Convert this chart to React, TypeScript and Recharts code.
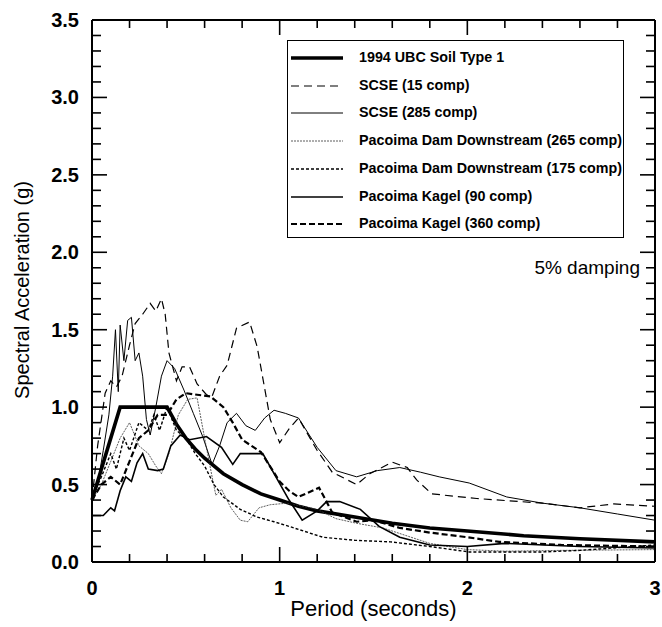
import { LineChart, Line, XAxis, YAxis, ReferenceLine } from 'recharts'

// spectral acceleration (g) vs period (s)
const ubcSoil1: [number, number][] = [
  [0, 0.4], [0.15, 1.0], [0.4, 1.0], [0.45, 0.89], [0.5, 0.8], [0.55, 0.73], [0.6, 0.67], [0.7, 0.57],
  [0.8, 0.5], [0.9, 0.44], [1.0, 0.4], [1.1, 0.36], [1.2, 0.33], [1.4, 0.29], [1.6, 0.25], [1.8, 0.22],
  [2.0, 0.2], [2.3, 0.17], [2.6, 0.15], [3.0, 0.13],
]

const scse15: [number, number][] = [
  [0, 0.4], [0.03, 0.75], [0.07, 1.09], [0.1, 1.17], [0.13, 1.13], [0.16, 1.2], [0.2, 1.4], [0.23, 1.54],
  [0.27, 1.6], [0.31, 1.67], [0.34, 1.62], [0.37, 1.7], [0.39, 1.6], [0.41, 1.35], [0.45, 1.17],
  [0.48, 1.26], [0.52, 1.26], [0.56, 1.15], [0.61, 1.08], [0.64, 1.07], [0.68, 1.2], [0.72, 1.27],
  [0.77, 1.51], [0.84, 1.55], [0.88, 1.39], [0.95, 0.92], [1.0, 0.77], [1.05, 0.86], [1.1, 0.93],
  [1.2, 0.72], [1.28, 0.58], [1.41, 0.5], [1.48, 0.57], [1.6, 0.645], [1.68, 0.61], [1.73, 0.53],
  [1.81, 0.44], [2.05, 0.41], [2.4, 0.38], [2.6, 0.35], [2.78, 0.375], [3.0, 0.36],
]

const scse285: [number, number][] = [
  [0, 0.4], [0.03, 0.5], [0.06, 0.72], [0.09, 0.95], [0.11, 1.2], [0.125, 1.5], [0.14, 1.1], [0.15, 1.53],
  [0.17, 1.3], [0.19, 1.56], [0.21, 1.58], [0.23, 1.3], [0.25, 1.35], [0.27, 1.2], [0.29, 0.92],
  [0.31, 0.82], [0.34, 1.0], [0.37, 1.2], [0.4, 1.3], [0.44, 1.25], [0.49, 1.11], [0.54, 0.96],
  [0.59, 0.81], [0.64, 0.63], [0.68, 0.75], [0.72, 0.9], [0.77, 0.96], [0.82, 0.88], [0.87, 0.85],
  [0.92, 0.93], [0.97, 0.98], [1.03, 0.96], [1.1, 0.93], [1.2, 0.74], [1.3, 0.59], [1.41, 0.55],
  [1.52, 0.59], [1.64, 0.61], [1.75, 0.58], [1.85, 0.55], [2.01, 0.51], [2.21, 0.42], [2.4, 0.38],
  [2.6, 0.35], [2.8, 0.31], [3.0, 0.27],
]

const pacDam265: [number, number][] = [
  [0, 0.4], [0.05, 0.5], [0.1, 0.65], [0.15, 0.8], [0.2, 0.9], [0.25, 0.75], [0.3, 0.7], [0.34, 0.62],
  [0.37, 0.57], [0.41, 0.7], [0.46, 0.95], [0.51, 1.05], [0.56, 1.06], [0.6, 0.8], [0.64, 0.55],
  [0.66, 0.43], [0.69, 0.47], [0.74, 0.35], [0.79, 0.27], [0.83, 0.26], [0.89, 0.35], [0.95, 0.37],
  [1.04, 0.38], [1.12, 0.36], [1.2, 0.34], [1.3, 0.28], [1.41, 0.25], [1.55, 0.22], [1.7, 0.16],
  [1.8, 0.12], [2.0, 0.08], [2.2, 0.07], [2.5, 0.075], [3.0, 0.08],
]

const pacDam175: [number, number][] = [
  [0, 0.42], [0.05, 0.55], [0.1, 0.7], [0.13, 0.6], [0.17, 0.8], [0.2, 0.72], [0.25, 0.9], [0.3, 0.85],
  [0.33, 0.95], [0.36, 0.85], [0.4, 1.0], [0.45, 0.85], [0.5, 0.8], [0.55, 0.7], [0.6, 0.62],
  [0.65, 0.5], [0.7, 0.42], [0.79, 0.34], [0.88, 0.29], [0.97, 0.26], [1.05, 0.23], [1.23, 0.16],
  [1.4, 0.14], [1.59, 0.13], [1.8, 0.1], [2.01, 0.065], [2.4, 0.065], [2.6, 0.075], [3.0, 0.11],
]

const kagel90: [number, number][] = [
  [0, 0.3], [0.06, 0.3], [0.1, 0.35], [0.12, 0.33], [0.15, 0.46], [0.18, 0.55], [0.21, 0.52],
  [0.24, 0.64], [0.27, 0.7], [0.3, 0.6], [0.35, 0.59], [0.38, 0.6], [0.42, 0.75], [0.47, 0.82],
  [0.52, 0.79], [0.61, 0.81], [0.69, 0.74], [0.75, 0.63], [0.79, 0.7], [0.91, 0.7], [0.98, 0.55],
  [1.05, 0.4], [1.12, 0.27], [1.2, 0.33], [1.25, 0.39], [1.32, 0.39], [1.43, 0.34], [1.53, 0.23],
  [1.64, 0.16], [1.8, 0.11], [2.0, 0.1], [2.2, 0.12], [2.6, 0.1], [3.0, 0.09],
]

const kagel360: [number, number][] = [
  [0, 0.4], [0.05, 0.5], [0.1, 0.55], [0.15, 0.5], [0.2, 0.65], [0.25, 0.8], [0.3, 0.85], [0.35, 0.95],
  [0.4, 0.95], [0.45, 1.05], [0.5, 1.09], [0.56, 1.08], [0.63, 1.07], [0.7, 1.0], [0.75, 0.9],
  [0.8, 0.79], [0.9, 0.71], [1.0, 0.52], [1.05, 0.46], [1.1, 0.42], [1.21, 0.48], [1.28, 0.32],
  [1.41, 0.26], [1.5, 0.27], [1.64, 0.22], [1.8, 0.19], [2.0, 0.16], [2.17, 0.13], [2.5, 0.11],
  [3.0, 0.1],
]

const seriesNames = [
  '1994 UBC Soil Type 1',
  'SCSE (15 comp)',
  'SCSE (285 comp)',
  'Pacoima Dam Downstream (265 comp)',
  'Pacoima Dam Downstream (175 comp)',
  'Pacoima Kagel (90 comp)',
  'Pacoima Kagel (360 comp)',
]

const xMajor = [0, 1, 2, 3]
const yMajor = [0, 0.5, 1.0, 1.5, 2.0, 2.5, 3.0, 3.5]
const xTicks = Array.from({ length: 16 }, (_, i) => +(i * 0.2).toFixed(1))
const yTicks = Array.from({ length: 36 }, (_, i) => +(i * 0.1).toFixed(1))

const X_MAX = 3
const Y_MAX = 3.5

// chart layout (plot box)
const W = 662
const H = 627
const PL = 92
const PR = 655
const PT = 20
const PB = 562

const FONT = '"Liberation Sans", Arial, Helvetica, sans-serif'

const styles = [
  { width: 3.6, dash: undefined, color: '#000' },
  { width: 1.2, dash: '8 5', color: '#000' },
  { width: 1, dash: undefined, color: '#000' },
  { width: 0.8, dash: '2 1', color: '#333' },
  { width: 1.4, dash: '3 2', color: '#000' },
  { width: 1.6, dash: undefined, color: '#000' },
  { width: 2.2, dash: '6 3', color: '#000' },
]

const allData = [ubcSoil1, scse15, scse285, pacDam265, pacDam175, kagel90, kagel360]

const isMajorX = (v: number) => xMajor.some((m) => Math.abs(m - v) < 1e-6)
const isMajorY = (v: number) => yMajor.some((m) => Math.abs(m - v) < 1e-6)

const BottomLabel = (props: any) => {
  const { x, y, payload } = props
  if (!isMajorX(payload.value)) return <g />
  return (
    <text x={x} y={y + 33} textAnchor="middle" fontFamily={FONT} fontSize={20} fontWeight="bold" fill="#000" stroke="none">
      {payload.value}
    </text>
  )
}

const LeftLabel = (props: any) => {
  const { x, y, payload } = props
  if (!isMajorY(payload.value)) return <g />
  return (
    <text x={x - 13} y={y + 7} textAnchor="end" fontFamily={FONT} fontSize={20} fontWeight="bold" fill="#000" stroke="none">
      {payload.value.toFixed(1)}
    </text>
  )
}

// inward tick marks on all four sides of the frame
const FrameTicks = () => {
  const sx = (t: number) => PL + (t / X_MAX) * (PR - PL)
  const sy = (a: number) => PB - (a / Y_MAX) * (PB - PT)
  return (
    <svg width={W} height={H} style={{ position: 'absolute', left: 0, top: 0, pointerEvents: 'none' }}>
      <g stroke="#000" strokeWidth={1.6}>
        {xTicks.map((v) => {
          const l = isMajorX(v) ? 15 : 8
          const x = sx(v)
          return (
            <g key={'x' + v}>
              <line x1={x} x2={x} y1={PB} y2={PB - l} />
              <line x1={x} x2={x} y1={PT} y2={PT + l} />
            </g>
          )
        })}
        {yTicks.map((v) => {
          const l = isMajorY(v) ? 15 : 9
          const y = sy(v)
          return (
            <g key={'y' + v}>
              <line x1={PL} x2={PL + l} y1={y} y2={y} />
              <line x1={PR} x2={PR - l} y1={y} y2={y} />
            </g>
          )
        })}
      </g>
    </svg>
  )
}

export default function App() {
  return (
    <div style={{ position: 'absolute', left: 0, top: 0, width: W, height: H, background: '#fff', fontFamily: FONT }}>
      <LineChart width={W} height={H} margin={{ top: PT, right: W - PR, bottom: 0, left: 0 }}>
        <XAxis
          xAxisId="bottom"
          type="number"
          dataKey="t"
          domain={[0, X_MAX]}
          ticks={xTicks}
          interval={0}
          height={H - PB}
          tickSize={0}
          tickMargin={0}
          tickLine={false}
          axisLine={{ stroke: '#000', strokeWidth: 2 }}
          tick={<BottomLabel />}
        />
        <YAxis
          yAxisId="left"
          type="number"
          domain={[0, Y_MAX]}
          ticks={yTicks}
          interval={0}
          width={PL}
          tickSize={0}
          tickMargin={0}
          tickLine={false}
          axisLine={{ stroke: '#000', strokeWidth: 2 }}
          tick={<LeftLabel />}
        />
        <ReferenceLine xAxisId="bottom" yAxisId="left" y={Y_MAX} stroke="#000" strokeWidth={2} />
        <ReferenceLine xAxisId="bottom" yAxisId="left" x={X_MAX} stroke="#000" strokeWidth={2} />
        {allData.map((d, i) => (
          <Line
            key={seriesNames[i]}
            xAxisId="bottom"
            yAxisId="left"
            data={d.map(([t, a]) => ({ t, a }))}
            dataKey="a"
            name={seriesNames[i]}
            type="linear"
            stroke={styles[i].color}
            strokeWidth={styles[i].width}
            strokeDasharray={styles[i].dash}
            dot={false}
            activeDot={false}
            isAnimationActive={false}
          />
        ))}
      </LineChart>

      <FrameTicks />

      {/* legend box */}
      <div
        style={{
          position: 'absolute', left: 287, top: 40, width: 337, height: 198,
          border: '1px solid #000', boxSizing: 'border-box', background: '#fff',
        }}
      >
        {seriesNames.map((n, i) => (
          <div key={n} style={{ position: 'absolute', left: 0, top: 17 + i * 27.7 - 10, height: 20, width: 335 }}>
            <svg width={60} height={20} style={{ position: 'absolute', left: 2, top: 0 }}>
              <line x1={1} x2={53} y1={10} y2={10} stroke={styles[i].color}
                strokeWidth={styles[i].width} strokeDasharray={styles[i].dash} />
            </svg>
            <span style={{ position: 'absolute', left: 71, top: 1, fontSize: 14.3, fontWeight: 'bold', whiteSpace: 'nowrap', lineHeight: '17px' }}>
              {n}
            </span>
          </div>
        ))}
      </div>

      <div style={{ position: 'absolute', right: 22, top: 257, fontSize: 19, whiteSpace: 'nowrap', lineHeight: '22px' }}>
        5% damping
      </div>

      <div style={{ position: 'absolute', left: PL, width: PR - PL, top: 596, textAlign: 'center', fontSize: 22, lineHeight: '26px' }}>
        Period (seconds)
      </div>

      <div
        style={{
          position: 'absolute', left: 22, top: 290, fontSize: 20, lineHeight: '24px', whiteSpace: 'nowrap',
          transform: 'translate(-50%, -50%) rotate(-90deg)',
        }}
      >
        Spectral Acceleration (g)
      </div>
    </div>
  )
}
